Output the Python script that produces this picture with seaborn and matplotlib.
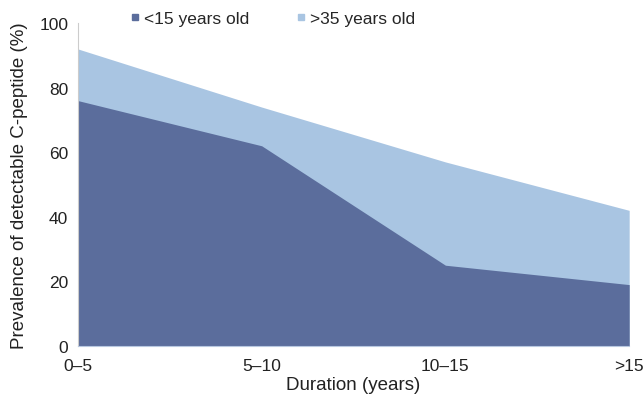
import matplotlib
matplotlib.use("Agg")
import matplotlib.pyplot as plt
import seaborn as sns
import numpy as np
import pandas as pd

categories = ["0–5", "5–10", "10–15", ">15"]
under15 = [76, 62, 25, 19]
over35 = [92, 74, 57, 42]
yticks = [0, 20, 40, 60, 80, 100]

sns.set_style("white")
plt.rcParams['font.family'] = ['Liberation Sans', 'DejaVu Sans']

dark = "#5B6D9C"
light = "#A9C5E2"

fig = plt.figure(figsize=(6.44, 4.02), dpi=100)
ax = fig.add_axes([0.121, 0.137, 0.856, 0.803])

df = pd.DataFrame({"x": np.arange(len(categories)), "u": under15, "o": over35})
sns.lineplot(data=df, x="x", y="o", ax=ax, color=light, linewidth=0)
sns.lineplot(data=df, x="x", y="u", ax=ax, color=dark, linewidth=0)
ax.fill_between(df["x"], 0, df["o"], color=light, linewidth=0, label=">35 years old")
ax.fill_between(df["x"], 0, df["u"], color=dark, linewidth=0, label="<15 years old")

ax.set_xlim(0, len(categories) - 1)
ax.set_ylim(0, 100)
ax.set_xticks(df["x"])
ax.set_xticklabels(categories)
ax.set_yticks(yticks)
ax.tick_params(axis="both", length=0, labelsize=12.5, colors="#222222")
ax.tick_params(axis="x", pad=9)
ax.tick_params(axis="y", pad=7)
ax.set_xlabel("Duration (years)", fontsize=13.5, color="#222222", labelpad=2)
ax.set_ylabel("Prevalence of detectable C-peptide (%)", fontsize=13.5, color="#222222", labelpad=8)

for s in ["top", "right"]:
    ax.spines[s].set_visible(False)
ax.spines["left"].set_color("#cccccc")
ax.spines["left"].set_linestyle((0, (1, 1)))
ax.spines["left"].set_linewidth(0.8)
ax.spines["bottom"].set_color("#b8c8e0")
ax.spines["bottom"].set_linewidth(0.8)

from matplotlib.lines import Line2D
handles = [Line2D([], [], marker="s", linestyle="", color=dark, markersize=5),
           Line2D([], [], marker="s", linestyle="", color=light, markersize=5)]
fig.legend(handles, ["<15 years old", ">35 years old"], loc="upper left",
           bbox_to_anchor=(0.175, 1.01), ncol=2, frameon=False, fontsize=12.5,
           handletextpad=0.1, columnspacing=2.6, handlelength=0.8)

fig.savefig("out.png", dpi=100)
